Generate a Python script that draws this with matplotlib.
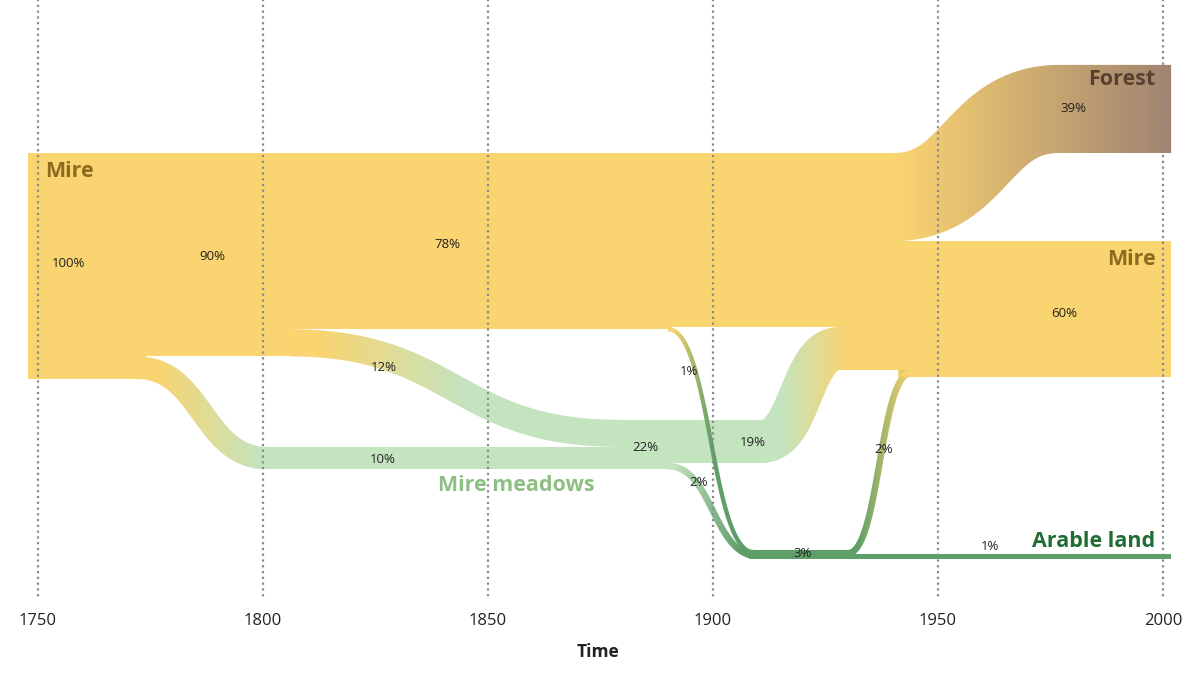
import matplotlib.pyplot as plt
import numpy as np
from matplotlib.patches import Polygon, Rectangle
from matplotlib.colors import to_rgb

plt.rcParams['font.family'] = ['Open Sans', 'DejaVu Sans']

# tick years on the time axis
tick_years = [1750, 1800, 1850, 1900, 1950, 2000]

# land-use bands (share of the area in %, over a span of years)
band_class = ["Mire", "Mire", "Mire", "Mire", "Mire meadows", "Mire meadows",
              "Mire meadows", "Arable land", "Arable land", "Mire"]
band_pct = [100, 90, 78, 77, 10, 22, 19, 3, 1, 60]
band_from = [1747.8, 1773, 1806, 1890, 1800, 1878, 1890, 1908, 1930, 1941]
band_to = [1774, 1807, 1891, 1941.5, 1879, 1891, 1912, 1931, 2001.8, 2001.8]

# transitions between classes
flow_from = ["Mire", "Mire", "Mire", "Mire meadows", "Mire meadows", "Arable land", "Mire"]
flow_to = ["Mire meadows", "Mire meadows", "Arable land", "Arable land", "Mire", "Mire", "Forest"]
flow_pct = [10, 12, 1, 2, 19, 2, 39]
flow_start = [1772, 1806, 1890, 1890, 1911, 1930, 1940]
flow_end = [1801, 1879, 1909, 1910, 1928, 1944, 1977]

# percentage labels shown on the chart
pct_labels = ["100%", "90%", "78%", "12%", "10%", "22%", "19%", "1%", "2%",
              "3%", "2%", "1%", "39%", "60%"]

# ---- layout (vertical stacking, label spots) ----
SX, SY = 4.5, 2.26          # px per year, px per percent
PAD = 0.9                   # small shares are drawn a little thicker
band_top = [0, 0, 0, 0, 130, 118, 118, 175.6, 177.6, 39]
flow_top0 = [90, 78, 77, 137.1, 118, 175.6, 0]
flow_top1 = [130, 118, 175.6, 176.9, 77, 96, -39]
flow_xe = [1801.5, 1879.5, 1909.5, 1910.5, 1941.5, 1941.5, 2001.8]
flow_grad = [(1776, 1800), (1812, 1845), (1891, 1900), (1891, 1906),
             (1915, 1930), (1932, 1944), (1941, 2001.8)]
pct_pos = [(1756.7, 49), (1788.7, 45.6), (1840.9, 40.7), (1826.9, 94.7),
           (1826.7, 135.4), (1884.9, 130.5), (1908.9, 128.3), (1894.7, 96.5),
           (1896.7, 146), (1920, 177.4), (1938, 131), (1961.6, 174.3),
           (1980, -19.9), (1978, 70.8)]

colors = {"Mire": "#FAD470", "Mire meadows": "#C4E4BF",
          "Arable land": "#5E9E69", "Forest": "#A08371"}
label_colors = {"Mire": "#8C6B1E", "Forest": "#574232",
                "Mire meadows": "#8DBF84", "Arable land": "#1F6D33"}


def thick(pct):
    return pct + PAD if pct < 5 else pct


def bend(x0, x1, y0, y1, n=240):
    t = np.linspace(0, 1, n)
    xm = (x0 + x1) / 2
    x = (1 - t)**3 * x0 + 3 * (1 - t)**2 * t * xm + 3 * (1 - t) * t**2 * xm + t**3 * x1
    y = (1 - t)**3 * y0 + 3 * (1 - t)**2 * t * y0 + 3 * (1 - t) * t**2 * y1 + t**3 * y1
    return x, y


def ribbon(ax, x0, x1, xe, top0, top1, w, c0, c1, g0, g1, z=3):
    # centre line, then offset along the normal in pixel space
    bx, by = bend(x0, x1, top0 + w / 2, top1 + w / 2)
    X, Y = bx * SX, by * SY
    dX, dY = np.gradient(X), np.gradient(Y)
    L = np.hypot(dX, dY)
    nx, ny = -dY / L, dX / L
    h = w * SY / 2
    ux, uy = (X - nx * h) / SX, (Y - ny * h) / SY
    lx, ly = (X + nx * h) / SX, (Y + ny * h) / SY
    ux = np.append(ux, xe)
    uy = np.append(uy, top1)
    lx = np.append(lx, xe)
    ly = np.append(ly, top1 + w)
    verts = np.vstack([np.column_stack([ux, uy]),
                       np.column_stack([lx[::-1], ly[::-1]])])
    poly = Polygon(verts, closed=True, facecolor='none', edgecolor='none')
    ax.add_patch(poly)
    xa, xb = verts[:, 0].min(), verts[:, 0].max()
    gx = np.linspace(xa, xb, 400)
    f = np.clip((gx - g0) / (g1 - g0), 0, 1)
    a, b = np.array(to_rgb(c0)), np.array(to_rgb(c1))
    img = a[None, :] * (1 - f[:, None]) + b[None, :] * f[:, None]
    im = ax.imshow(img[None, :, :], extent=(xa, xb, verts[:, 1].max(), verts[:, 1].min()),
                   aspect='auto', zorder=z, interpolation='bilinear')
    im.set_clip_path(poly)


fig = plt.figure(figsize=(12, 6.76), dpi=100)
ax = fig.add_axes([0, 0, 1, 1])

for cls, pct, x0, x1, top in zip(band_class, band_pct, band_from, band_to, band_top):
    ax.add_patch(Rectangle((x0, top), x1 - x0, thick(pct), facecolor=colors[cls],
                           edgecolor='none', zorder=2))

for i in range(len(flow_pct)):
    ribbon(ax, flow_start[i], flow_end[i], flow_xe[i], flow_top0[i], flow_top1[i],
           thick(flow_pct[i]), colors[flow_from[i]], colors[flow_to[i]],
           flow_grad[i][0], flow_grad[i][1])

# dotted year lines
for yr in tick_years:
    ax.plot([yr, yr], [-68, 196.5], color='#8a8a8a', lw=1.6,
            linestyle=(0, (1, 1.6)), zorder=5)
    ax.text(yr, 207, str(yr), ha='center', va='center', fontsize=12,
            color='#222222')
ax.text(1874.4, 220.8, "Time", ha='center', va='center', fontsize=12.5,
        fontweight='bold', color='#222222')

for lab, (x, y) in zip(pct_labels, pct_pos):
    ax.text(x, y, lab, ha='center', va='center', fontsize=9.5, color='#222222',
            zorder=6)

big = dict(fontsize=15.5, fontweight='bold', va='center', zorder=6)
ax.text(1751.6, 8.0, "Mire", ha='left', color=label_colors["Mire"], **big)
ax.text(1998.4, -32.7, "Forest", ha='right', color=label_colors["Forest"], **big)
ax.text(1998.4, 47.3, "Mire", ha='right', color=label_colors["Mire"], **big)
ax.text(1856.4, 147.3, "Mire meadows", ha='center', color=label_colors["Mire meadows"], **big)
ax.text(1998.2, 172.1, "Arable land", ha='right', color=label_colors["Arable land"], **big)

ax.set_xlim(1741.56, 2008.22)
ax.set_ylim(231.4, -67.7)
ax.axis('off')

fig.savefig("out.png", dpi=100)
